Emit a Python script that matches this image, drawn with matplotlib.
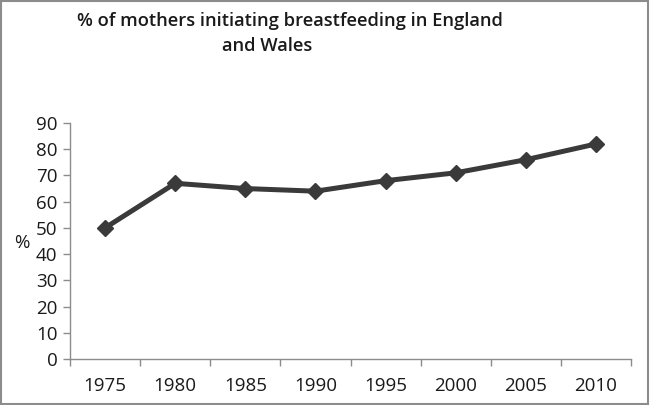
import matplotlib
matplotlib.use("Agg")
import matplotlib.pyplot as plt
from matplotlib.patches import Rectangle

# datos
anios = ["1975", "1980", "1985", "1990", "1995", "2000", "2005", "2010"]
porcentaje = [50, 67, 65, 64, 68, 71, 76, 82]
ticks_y = [0, 10, 20, 30, 40, 50, 60, 70, 80, 90]

plt.rcParams['font.family'] = ['Open Sans', 'DejaVu Sans']

fig = plt.figure(figsize=(6.5, 4.05), dpi=100)
ax = fig.add_axes([0.1077, 0.1136, 0.8631, 0.5827])

x = list(range(len(anios)))
ax.plot(x, porcentaje, color='#3a3a3a', linewidth=3.6, marker='D',
        markersize=8.5, markerfacecolor='#3a3a3a', markeredgecolor='#3a3a3a',
        solid_joinstyle='round')

ax.set_xlim(-0.5, len(anios) - 0.5)
ax.set_ylim(0, 90)
ax.set_yticks(ticks_y)
ax.set_yticklabels([str(v) for v in ticks_y], fontsize=13.5, color='#1a1a1a')

# ticks del eje x entre categorías, etiquetas centradas
ax.set_xticks([i - 0.5 for i in range(len(anios) + 1)])
ax.set_xticklabels([])
ax.set_xticks(x, minor=True)
ax.set_xticklabels(anios, minor=True, fontsize=13.5, color='#1a1a1a')
ax.tick_params(axis='x', which='minor', length=0, pad=13)
ax.tick_params(axis='x', which='major', length=5, color='#8c8c8c', width=1)
ax.tick_params(axis='y', length=5, color='#8c8c8c', width=1, pad=4)

for lado in ['top', 'right']:
    ax.spines[lado].set_visible(False)
for lado in ['left', 'bottom']:
    ax.spines[lado].set_color('#8c8c8c')
    ax.spines[lado].set_linewidth(1)

fig.text(22 / 650, 1 - 243 / 405, '%', fontsize=13.5, ha='center', va='center',
         color='#1a1a1a')

# título en dos líneas (la segunda no queda centrada en el original)
fig.text(290 / 650, 1 - 21 / 405, '% of mothers initiating breastfeeding in England',
         fontsize=13.2, fontweight='semibold', ha='center', va='center',
         color='#1a1a1a')
fig.text(267 / 650, 1 - 46 / 405, 'and Wales',
         fontsize=13.2, fontweight='semibold', ha='center', va='center',
         color='#1a1a1a')

# marco gris alrededor de la figura
fig.patches.append(Rectangle((0.002, 0.003), 0.995, 0.994, transform=fig.transFigure,
                             fill=False, edgecolor='#8c8c8c', linewidth=1.5))

fig.savefig('out.png', dpi=100)
